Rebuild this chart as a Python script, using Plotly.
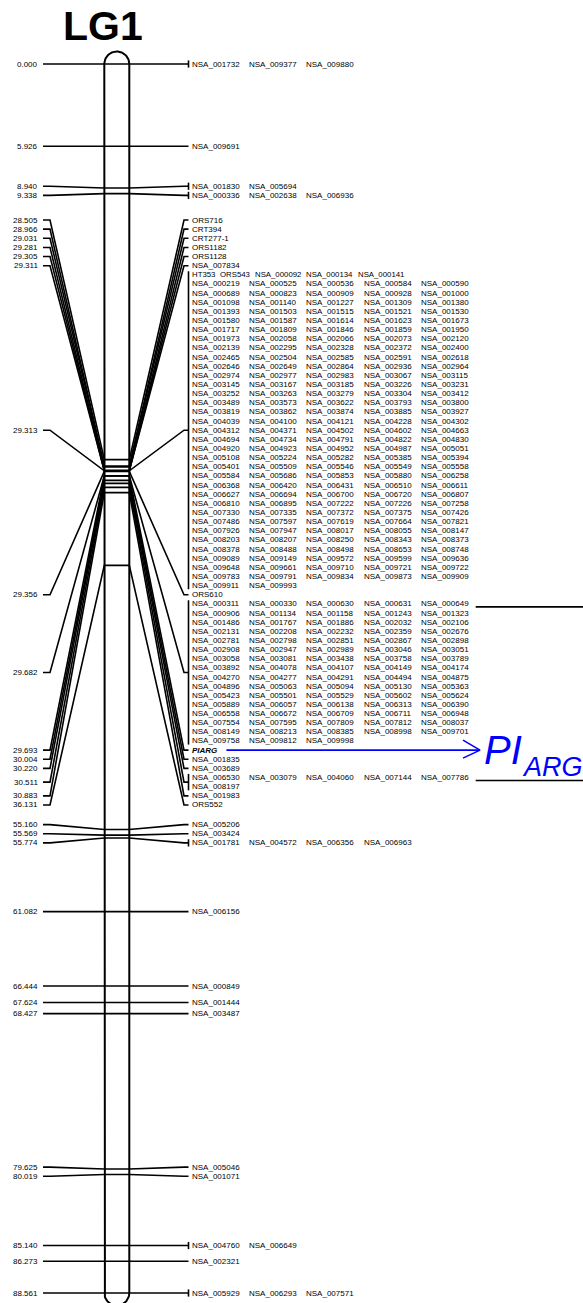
import math
import plotly.graph_objects as go

# ---------------- data ----------------
lg_name = "LG1"

locus_cm = [0.000, 5.926, 8.940, 9.338, 28.505, 28.966, 29.031, 29.281, 29.305, 29.311,
            29.313, 29.356, 29.682, 29.693, 30.004, 30.220, 30.511, 30.883, 36.131,
            55.160, 55.569, 55.774, 61.082, 66.444, 67.624, 68.427, 79.625, 80.019,
            85.140, 86.273, 88.561]


def nsa(nums):
    return ["NSA_%06d" % v for v in nums]


block_29313 = ["HT353", "ORS543"] + nsa([
    92, 134, 141,
    219, 525, 536, 584, 590,
    689, 823, 909, 928, 1000,
    1098, 1140, 1227, 1309, 1380,
    1393, 1503, 1515, 1521, 1530,
    1580, 1587, 1614, 1623, 1673,
    1717, 1809, 1846, 1859, 1950,
    1973, 2058, 2066, 2073, 2120,
    2139, 2295, 2328, 2372, 2400,
    2465, 2504, 2585, 2591, 2618,
    2646, 2649, 2864, 2936, 2964,
    2974, 2977, 2983, 3067, 3115,
    3145, 3167, 3185, 3226, 3231,
    3252, 3263, 3279, 3304, 3412,
    3489, 3573, 3622, 3793, 3800,
    3819, 3862, 3874, 3885, 3927,
    4039, 4100, 4121, 4228, 4302,
    4312, 4371, 4502, 4602, 4663,
    4694, 4734, 4791, 4822, 4830,
    4920, 4923, 4952, 4987, 5051,
    5108, 5224, 5282, 5385, 5394,
    5401, 5509, 5546, 5549, 5558,
    5584, 5686, 5853, 5880, 6258,
    6368, 6420, 6431, 6510, 6611,
    6627, 6694, 6700, 6720, 6807,
    6810, 6895, 7222, 7226, 7258,
    7330, 7335, 7372, 7375, 7426,
    7486, 7597, 7619, 7664, 7821,
    7926, 7947, 8017, 8055, 8147,
    8203, 8207, 8250, 8343, 8373,
    8378, 8488, 8498, 8653, 8748,
    9089, 9149, 9572, 9599, 9636,
    9648, 9661, 9710, 9721, 9722,
    9783, 9791, 9834, 9873, 9909,
    9911, 9993])

block_29682 = nsa([
    311, 330, 630, 631, 649,
    906, 1134, 1158, 1243, 1323,
    1486, 1767, 1886, 2032, 2106,
    2131, 2208, 2232, 2359, 2676,
    2781, 2798, 2851, 2867, 2898,
    2908, 2947, 2989, 3046, 3051,
    3058, 3081, 3438, 3758, 3789,
    3892, 4078, 4107, 4149, 4174,
    4270, 4277, 4291, 4494, 4875,
    4896, 5063, 5094, 5130, 5363,
    5423, 5501, 5529, 5602, 5624,
    5889, 6057, 6138, 6313, 6390,
    6558, 6672, 6709, 6711, 6948,
    7554, 7595, 7809, 7812, 8037,
    8149, 8213, 8385, 8998, 9701,
    9758, 9812, 9998])

locus_markers = [
    nsa([1732, 9377, 9880]),
    nsa([9691]),
    nsa([1830, 5694]),
    nsa([336, 2638, 6936]),
    ["ORS716"], ["CRT394"], ["CRT277-1"], ["ORS1182"], ["ORS1128"], nsa([7834]),
    block_29313,
    ["ORS610"],
    block_29682,
    ["PIARG"],
    nsa([1835]), nsa([3689]),
    nsa([6530, 3079, 4060, 7144, 7786, 8197]),
    nsa([1983]), ["ORS552"],
    nsa([5206]), nsa([3424]), nsa([1781, 4572, 6356, 6963]),
    nsa([6156]), nsa([849]), nsa([1444]), nsa([3487]),
    nsa([5046]), nsa([1071]), nsa([4760, 6649]), nsa([2321]),
    nsa([5929, 6293, 7571]),
]

qtl_marker = "PIARG"
qtl_main, qtl_sub = "PI", "ARG"
qtl_flanks = ["NSA_000649", "NSA_007786"]

# ---------------- layout constants (pixels) ----------------
W, H = 583, 1303
TOP_PX, BOT_PX = 64, 1293
PX = (BOT_PX - TOP_PX) / (locus_cm[-1] - locus_cm[0])   # px per cM


def cm_of(px):
    return (px - TOP_PX) / PX + locus_cm[0]


def dcm(px):
    return px / PX


COLS = 5
ROW = dcm(9.14)
FONT = "Arial, 'Liberation Sans', sans-serif"
FS = 8
FS_MIXED = 7.8
X_LTXT = 38.0
X_LL0, X_LL1 = 43.0, 50.0
X_CL, X_CR = 104.3, 129.3
X_RL1, X_BAR = 184.0, 188.5
X_TXT = 191.5
COL_DX = 57.4
BLUE = "#0000ff"
LW = 1.6

# ---------------- label spreading ----------------
n = len(locus_cm)
nrows = [max(1, math.ceil(len(m) / COLS)) for m in locus_markers]
hgt = [r * ROW for r in nrows]


def place(cl):
    f, l = cl[0], cl[-1]
    tot = sum(hgt[i] for i in cl)
    span = tot - hgt[f] / 2 - hgt[l] / 2
    first_c = (locus_cm[f] + locus_cm[l]) / 2 - span / 2
    top = first_c - hgt[f] / 2
    return top, top + tot


clusters = [[i] for i in range(n)]
changed = True
while changed:
    changed = False
    for k in range(len(clusters) - 2, -1, -1):
        _, b1 = place(clusters[k])
        t2, _ = place(clusters[k + 1])
        if b1 > t2 + 1e-9:
            clusters[k] = clusters[k] + clusters[k + 1]
            del clusters[k + 1]
            changed = True
            break

grp_top = [0.0] * n
grp_ctr = [0.0] * n
for cl in clusters:
    y, _ = place(cl)
    for i in cl:
        grp_top[i] = y
        grp_ctr[i] = y + hgt[i] / 2
        y += hgt[i]

# ---------------- figure ----------------
fig = go.Figure()

# chromosome outline
cx = (X_CL + X_CR) / 2
r = (X_CR - X_CL) / 2
ox, oy = [X_CL, X_CL], [locus_cm[0], locus_cm[-1]]
for k in range(41):
    a = math.pi - math.pi * k / 40
    ox.append(cx + r * math.cos(a))
    oy.append(locus_cm[-1] + dcm(r) * math.sin(a))
ox += [X_CR, X_CR]
oy += [locus_cm[-1], locus_cm[0]]
for k in range(41):
    a = math.pi * k / 40
    ox.append(cx + r * math.cos(a))
    oy.append(locus_cm[0] - dcm(r) * math.sin(a))
fig.add_trace(go.Scatter(x=ox, y=oy, mode="lines", line=dict(color="black", width=2),
                         hoverinfo="skip"))

# connectors
lx, ly = [], []
for i in range(n):
    c = locus_cm[i]
    yl = grp_ctr[i]
    lx += [X_LL0, X_LL1, X_CL, X_CR, X_RL1, X_BAR, None]
    ly += [yl, yl, c, c, yl, yl, None]
    if len(locus_markers[i]) > 1:
        y0 = grp_top[i] + ROW / 2 - dcm(3.6)
        y1 = grp_top[i] + hgt[i] - ROW / 2 + dcm(3.6)
        lx += [X_BAR, X_BAR, None]
        ly += [y0, y1, None]

# text
annotations = []


def add_text(x, y, text, anchor, size=FS, color="black"):
    annotations.append(dict(x=x, y=y, xref="x", yref="y", text=text, showarrow=False,
                            xanchor=anchor, yanchor="middle", borderpad=0, borderwidth=0,
                            font=dict(family=FONT, size=size, color=color)))


def text_w(s, size):
    w = 0.0
    for ch in s:
        if ch.isdigit() or ch == "_":
            w += 0.556
        elif ch == "-":
            w += 0.333
        elif ch in "MW":
            w += 0.833
        elif ch in "OGQ":
            w += 0.778
        elif ch in "NHRC":
            w += 0.722
        elif ch in "ASPBEK":
            w += 0.667
        elif ch in "TFZ":
            w += 0.611
        elif ch in "IJ":
            w += 0.278
        else:
            w += 0.667
    return w * size


row_y = {}
for i in range(n):
    add_text(X_LTXT, grp_ctr[i], "%.3f" % locus_cm[i], "right")
    mk = locus_markers[i]
    for rr in range(nrows[i]):
        items = mk[rr * COLS:(rr + 1) * COLS]
        y = grp_top[i] + (rr + 0.5) * ROW
        uniform = all(s.startswith("NSA_") for s in items)
        x = X_TXT
        for j, s in enumerate(items):
            row_y[s] = (y, j)
            size = FS
            if uniform:
                xx = X_TXT + j * COL_DX
            else:
                size = FS_MIXED if len(items) > 1 else FS
                xx = x
                x += text_w(s, size) + 5
            txt = "<b><i>%s</i></b>" % s if s == qtl_marker else s
            add_text(xx, y, txt, "left", size=size)

# title
add_text(cx - 14, cm_of(26), "<b>%s</b>" % lg_name, "center", size=41)

# QTL arrow and label
qy, _ = row_y[qtl_marker]
ax0 = X_TXT + text_w(qtl_marker, FS) + 10
ax1 = 480.0
bx = [ax0, ax1, None, ax1 - 17, ax1, ax1 - 17]
by = [qy, qy, None, qy - dcm(10), qy, qy + dcm(8)]
fig.add_trace(go.Scatter(x=bx, y=by, mode="lines", line=dict(color=BLUE, width=1.6),
                         hoverinfo="skip"))
add_text(484, qy, "<i>%s</i>" % qtl_main, "left", size=40, color=BLUE)
add_text(522, qy + dcm(17), "<i>%s</i>" % qtl_sub, "left", size=27, color=BLUE)

# flank lines
for s in qtl_flanks:
    fy, j = row_y[s]
    xs = X_TXT + j * COL_DX + text_w(s, FS) + 7
    lx += [xs, W + 5, None]
    ly += [fy + dcm(3), fy + dcm(3), None]

fig.add_trace(go.Scatter(x=lx, y=ly, mode="lines", line=dict(color="black", width=LW),
                         hoverinfo="skip"))

fig.update_layout(
    width=W, height=H, margin=dict(l=0, r=0, t=0, b=0),
    paper_bgcolor="white", plot_bgcolor="white", showlegend=False,
    xaxis=dict(range=[0, W], visible=False, fixedrange=True),
    yaxis=dict(range=[cm_of(H), cm_of(0)], visible=False, fixedrange=True),
    annotations=annotations,
)

fig.write_html("out.html", config={"displayModeBar": False},
               post_script="document.body.style.margin='0';")
